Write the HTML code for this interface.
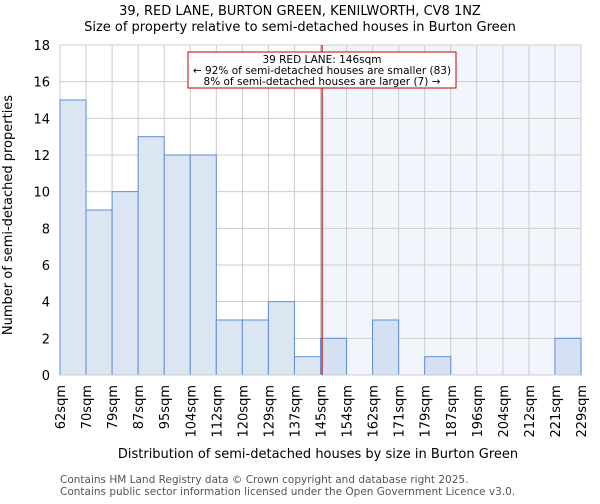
<!DOCTYPE html>
<html><head><meta charset="utf-8"><style>
body{margin:0;background:#fff;font-family:"DejaVu Sans","Liberation Sans",sans-serif}
</style></head><body>
<svg width="600" height="500" xmlns="http://www.w3.org/2000/svg" font-family="DejaVu Sans, Liberation Sans, sans-serif">
<text x="300" y="15" text-anchor="middle" font-size="13">39, RED LANE, BURTON GREEN, KENILWORTH, CV8 1NZ</text>
<text x="300" y="31" text-anchor="middle" font-size="13">Size of property relative to semi-detached houses in Burton Green</text>
<g id="plot"></g>
<text x="12" y="215" text-anchor="middle" font-size="13" transform="rotate(-90 12 215)">Number of semi-detached properties</text>
<text x="318" y="458" text-anchor="middle" font-size="13">Distribution of semi-detached houses by size in Burton Green</text>
<text x="60" y="483" font-size="10.5" fill="#555">Contains HM Land Registry data © Crown copyright and database right 2025.</text>
<text x="60" y="495" font-size="10.5" fill="#555">Contains public sector information licensed under the Open Government Licence v3.0.</text>
</svg>
<script>
const binLabels=["62sqm","70sqm","79sqm","87sqm","95sqm","104sqm","112sqm","120sqm","129sqm","137sqm","145sqm","154sqm","162sqm","171sqm","179sqm","187sqm","196sqm","204sqm","212sqm","221sqm","229sqm"];
const counts=[15,9,10,13,12,12,3,3,4,1,2,0,3,0,1,0,0,0,0,2];
const yTicks=[0,2,4,6,8,10,12,14,16,18];
const markerBin=10.06;
const NS="http://www.w3.org/2000/svg";
const g=document.getElementById('plot');
const L=60,R=581,T=45,B=375,yMax=18;
const n=counts.length,bw=(R-L)/n;
const xs=i=>L+i*bw, ys=v=>B-(v/yMax)*(B-T);
function mk(t,a){const e=document.createElementNS(NS,t);for(const k in a)e.setAttribute(k,a[k]);g.appendChild(e);return e;}
const mx=xs(markerBin);
let e=mk('rect',{x:mx,y:T,width:R-mx,height:B-T,fill:'#f2f5fc'});


yTicks.forEach(v=>{
 let l=mk('line',{x1:L,x2:R,y1:ys(v),y2:ys(v),stroke:'#cccccc'});
 
 
 let t=mk('text',{x:L-10,y:ys(v)+5,'text-anchor':'end','font-size':13});
 t.textContent=v;
 
 
});
binLabels.forEach((s,i)=>{
 let l=mk('line',{x1:xs(i),x2:xs(i),y1:T,y2:B,stroke:'#cccccc'});
 
 
 let x=xs(i)+5,y=B+10;
 let t=mk('text',{x:x,y:y,'text-anchor':'end','font-size':13,transform:`rotate(-90 ${x} ${y})`});
 t.textContent=s;
 
 
});
counts.forEach((c,i)=>{
 if(c<=0)return;
 let r=mk('rect',{x:xs(i),y:ys(c),width:bw,height:B-ys(c),fill:i>=10?'#d5e1f3':'#dce6f2',stroke:'#5b8fd6','stroke-width':1});
 
 
});
let ax=mk('line',{x1:L,x2:R,y1:B,y2:B,stroke:'#ccc'});


let ml=mk('line',{x1:mx,x2:mx,y1:T,y2:B,stroke:'#cc0000','stroke-width':1.2});


let box=mk('rect',{x:188,y:52,width:268,height:36,fill:'#fff',stroke:'#cc0000'});


["39 RED LANE: 146sqm","← 92% of semi-detached houses are smaller (83)","8% of semi-detached houses are larger (7) →"].forEach((s,i)=>{
 let t=mk('text',{x:322,y:63+i*11,'text-anchor':'middle','font-size':10.5});
 t.textContent=s;
 
 
});
</script>
</body></html>
